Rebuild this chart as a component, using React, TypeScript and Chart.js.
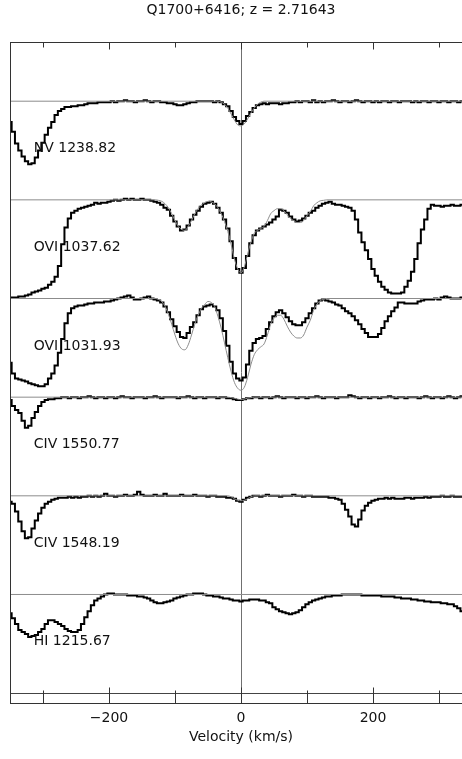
import { useEffect, useRef } from "react";
import { Chart, registerables } from "chart.js";

Chart.register(...registerables);

// Velocity bin centres (km/s) of the rebinned spectra
const VELOCITY = [
  -350, -345, -340, -335, -330, -325, -320, -315, -310, -305,
  -300, -295, -290, -285, -280, -275, -270, -265, -260, -255,
  -250, -245, -240, -235, -230, -225, -220, -215, -210, -205,
  -200, -195, -190, -185, -180, -175, -170, -165, -160, -155,
  -150, -145, -140, -135, -130, -125, -120, -115, -110, -105,
  -100, -95, -90, -85, -80, -75, -70, -65, -60, -55,
  -50, -45, -40, -35, -30, -25, -20, -15, -10, -5,
  0, 5, 10, 15, 20, 25, 30, 35, 40, 45,
  50, 55, 60, 65, 70, 75, 80, 85, 90, 95,
  100, 105, 110, 115, 120, 125, 130, 135, 140, 145,
  150, 155, 160, 165, 170, 175, 180, 185, 190, 195,
  200, 205, 210, 215, 220, 225, 230, 235, 240, 245,
  250, 255, 260, 265, 270, 275, 280, 285, 290, 295,
  300, 305, 310, 315, 320, 325, 330, 335, 340,
];

// Normalised flux per line, one value per velocity bin
const NV_1238 = [
  0.79, 0.69, 0.57, 0.50, 0.44, 0.39, 0.36, 0.37, 0.43, 0.50,
  0.58, 0.66, 0.73, 0.79, 0.86, 0.90, 0.92, 0.94, 0.94, 0.95,
  0.95, 0.96, 0.96, 0.97, 0.98, 0.98, 0.98, 0.99, 0.99, 0.99,
  0.99, 1.00, 0.99, 1.00, 1.00, 1.01, 1.00, 1.00, 0.99, 1.00,
  1.00, 1.01, 1.00, 0.99, 1.00, 1.00, 0.99, 0.99, 0.98, 0.98,
  0.97, 0.96, 0.96, 0.97, 0.98, 0.99, 0.99, 1.00, 1.00, 1.00,
  1.00, 1.00, 0.99, 1.00, 0.99, 0.97, 0.95, 0.90, 0.84, 0.80,
  0.77, 0.80, 0.85, 0.89, 0.93, 0.96, 0.97, 0.98, 0.97, 0.98,
  0.98, 0.98, 0.97, 0.98, 0.98, 0.99, 0.99, 1.00, 0.99, 1.00,
  1.00, 0.99, 1.01, 0.99, 1.00, 0.99, 1.00, 1.00, 1.01, 1.00,
  0.99, 1.00, 1.00, 0.99, 1.00, 1.01, 1.00, 0.99, 1.00, 1.00,
  0.99, 1.00, 0.99, 1.00, 1.00, 0.99, 1.00, 1.00, 0.99, 1.00,
  1.00, 1.00, 0.99, 1.00, 0.99, 1.00, 1.00, 0.99, 1.00, 1.00,
  0.99, 1.00, 1.00, 0.99, 1.00, 1.00, 0.99, 1.00, 1.00,
];

const OVI_1037 = [
  0.01, 0.01, 0.01, 0.02, 0.02, 0.03, 0.04, 0.06, 0.07, 0.08,
  0.10, 0.11, 0.14, 0.17, 0.22, 0.33, 0.55, 0.72, 0.81, 0.87,
  0.89, 0.91, 0.92, 0.93, 0.94, 0.95, 0.97, 0.96, 0.97, 0.97,
  0.98, 0.99, 1.00, 0.99, 1.00, 1.01, 1.00, 1.01, 1.00, 1.00,
  1.01, 1.00, 1.00, 0.99, 0.98, 0.97, 0.95, 0.92, 0.90, 0.84,
  0.78, 0.73, 0.69, 0.70, 0.74, 0.80, 0.85, 0.89, 0.93, 0.96,
  0.97, 0.98, 0.96, 0.92, 0.87, 0.80, 0.71, 0.58, 0.41, 0.30,
  0.26, 0.31, 0.43, 0.56, 0.64, 0.69, 0.71, 0.73, 0.75, 0.77,
  0.80, 0.83, 0.90, 0.89, 0.87, 0.83, 0.80, 0.78, 0.79, 0.81,
  0.84, 0.87, 0.89, 0.92, 0.94, 0.96, 0.97, 0.98, 0.96, 0.95,
  0.95, 0.94, 0.93, 0.92, 0.89, 0.80, 0.67, 0.57, 0.49, 0.40,
  0.30, 0.23, 0.17, 0.12, 0.09, 0.06, 0.05, 0.05, 0.05, 0.06,
  0.12, 0.18, 0.27, 0.40, 0.56, 0.70, 0.80, 0.91, 0.95, 0.94,
  0.94, 0.93, 0.94, 0.94, 0.95, 0.94, 0.94, 0.95, 0.95,
];

const OVI_1031 = [
  0.35, 0.24, 0.19, 0.18, 0.17, 0.16, 0.14, 0.13, 0.12, 0.11,
  0.11, 0.13, 0.19, 0.24, 0.32, 0.45, 0.59, 0.75, 0.85, 0.90,
  0.92, 0.93, 0.93, 0.94, 0.95, 0.95, 0.96, 0.96, 0.96, 0.97,
  0.97, 0.98, 0.99, 1.00, 1.01, 1.02, 1.03, 1.01, 0.99, 0.99,
  1.00, 1.01, 1.02, 1.00, 0.99, 0.98, 0.96, 0.92, 0.86, 0.79,
  0.72, 0.66, 0.61, 0.60, 0.65, 0.71, 0.76, 0.83, 0.89, 0.92,
  0.93, 0.94, 0.92, 0.88, 0.80, 0.67, 0.52, 0.36, 0.24, 0.19,
  0.17, 0.20, 0.33, 0.47, 0.55, 0.59, 0.60, 0.62, 0.69, 0.76,
  0.82, 0.86, 0.88, 0.85, 0.81, 0.77, 0.74, 0.73, 0.73, 0.76,
  0.80, 0.85, 0.90, 0.95, 0.98, 0.99, 0.98, 0.97, 0.96, 0.94,
  0.93, 0.90, 0.87, 0.85, 0.82, 0.78, 0.74, 0.69, 0.65, 0.61,
  0.61, 0.61, 0.64, 0.70, 0.77, 0.82, 0.87, 0.91, 0.96, 0.96,
  0.95, 0.95, 0.95, 0.95, 0.97, 0.98, 0.99, 0.99, 0.99, 1.00,
  0.99, 1.01, 1.02, 1.01, 1.00, 1.00, 1.00, 1.01, 1.00,
];

const CIV_1550 = [
  0.97, 0.91, 0.87, 0.84, 0.76, 0.69, 0.71, 0.79, 0.85, 0.91,
  0.95, 0.97, 0.98, 0.98, 0.99, 0.99, 1.00, 1.00, 0.99, 1.00,
  1.00, 0.99, 1.00, 1.00, 1.01, 1.00, 0.99, 1.00, 1.00, 0.99,
  1.00, 1.00, 0.99, 1.00, 1.01, 1.00, 1.00, 0.99, 1.00, 1.00,
  1.00, 0.99, 1.00, 1.00, 1.01, 1.00, 0.99, 1.00, 1.00, 1.00,
  1.00, 0.99, 1.00, 1.00, 1.01, 1.00, 0.99, 1.00, 1.00, 0.99,
  1.00, 1.00, 1.00, 0.99, 1.00, 1.00, 0.99, 0.99, 0.98, 0.97,
  0.97, 0.98, 0.99, 0.99, 1.00, 1.00, 0.99, 1.00, 1.00, 0.99,
  1.00, 1.01, 1.00, 0.99, 1.00, 1.00, 1.00, 0.99, 1.00, 1.00,
  0.99, 1.00, 1.00, 1.01, 1.00, 0.99, 1.00, 1.00, 1.00, 0.99,
  1.00, 1.00, 1.00, 1.02, 1.01, 1.00, 0.99, 1.00, 1.00, 0.99,
  1.00, 1.00, 0.99, 1.00, 1.00, 1.01, 1.00, 0.99, 1.00, 1.00,
  0.99, 1.00, 1.00, 1.00, 0.99, 1.00, 1.01, 1.00, 0.99, 1.00,
  1.00, 0.99, 1.00, 1.01, 1.00, 0.99, 1.00, 1.01, 1.00,
];

const CIV_1548 = [
  0.94, 0.92, 0.84, 0.74, 0.64, 0.57, 0.58, 0.67, 0.75, 0.82,
  0.88, 0.92, 0.94, 0.96, 0.97, 0.98, 0.98, 0.98, 0.99, 0.98,
  0.99, 0.98, 0.99, 0.99, 1.00, 0.99, 1.00, 0.99, 1.00, 1.02,
  1.00, 1.00, 0.99, 1.00, 1.00, 1.01, 1.00, 1.00, 1.01, 1.04,
  1.01, 1.00, 1.00, 1.00, 1.01, 1.00, 1.00, 1.02, 1.00, 1.00,
  1.00, 1.00, 1.01, 1.00, 1.00, 1.00, 1.01, 1.00, 1.00, 1.00,
  0.99, 1.00, 1.00, 0.99, 0.99, 0.99, 0.98, 0.98, 0.97, 0.95,
  0.94, 0.96, 0.98, 0.99, 1.00, 1.00, 0.99, 1.00, 1.01, 1.00,
  1.00, 1.00, 0.99, 1.00, 1.00, 1.00, 1.01, 1.00, 1.00, 0.99,
  1.00, 1.00, 0.99, 0.99, 0.99, 0.99, 0.99, 0.98, 0.98, 0.97,
  0.96, 0.92, 0.86, 0.79, 0.71, 0.69, 0.76, 0.85, 0.90, 0.93,
  0.95, 0.96, 0.97, 0.97, 0.98, 0.97, 0.98, 0.97, 0.97, 0.97,
  0.98, 0.98, 0.97, 0.98, 0.98, 0.98, 0.99, 0.98, 0.99, 0.99,
  0.99, 1.00, 0.99, 0.99, 1.00, 0.99, 0.99, 0.99, 0.99,
];

const HI_1215 = [
  0.81, 0.76, 0.70, 0.64, 0.62, 0.60, 0.57, 0.58, 0.59, 0.62,
  0.65, 0.70, 0.74, 0.74, 0.72, 0.70, 0.68, 0.65, 0.63, 0.62,
  0.62, 0.64, 0.70, 0.77, 0.83, 0.89, 0.94, 0.96, 0.98, 1.00,
  1.01, 1.01, 1.00, 1.00, 1.00, 1.00, 0.99, 0.99, 0.99, 0.98,
  0.98, 0.97, 0.96, 0.94, 0.92, 0.91, 0.91, 0.92, 0.93, 0.94,
  0.96, 0.97, 0.98, 0.99, 1.00, 1.00, 1.01, 1.01, 1.01, 1.00,
  0.99, 0.99, 0.98, 0.98, 0.97, 0.96, 0.96, 0.95, 0.94, 0.94,
  0.93, 0.94, 0.94, 0.95, 0.95, 0.95, 0.94, 0.94, 0.92, 0.91,
  0.87, 0.85, 0.83, 0.82, 0.81, 0.80, 0.81, 0.82, 0.84, 0.87,
  0.90, 0.92, 0.94, 0.95, 0.96, 0.97, 0.98, 0.98, 0.99, 0.99,
  0.99, 1.00, 1.00, 1.00, 1.00, 1.00, 1.00, 0.99, 0.99, 0.99,
  0.99, 0.99, 0.99, 0.98, 0.98, 0.98, 0.98, 0.97, 0.97, 0.96,
  0.96, 0.96, 0.95, 0.95, 0.94, 0.94, 0.93, 0.93, 0.92, 0.92,
  0.92, 0.91, 0.91, 0.90, 0.90, 0.88, 0.86, 0.83, 0.81,
];

// Model profiles (velocity, flux) for each line
const NV_FIT_V = [-350, -35, -30, -25, -20, -15, -10, -5, 0, 5, 10, 15, 20, 25, 30, 35, 350];
const NV_FIT = [1, 1, 0.99, 0.97, 0.93, 0.87, 0.81, 0.76, 0.75, 0.77, 0.82, 0.88, 0.93, 0.97, 0.99, 1, 1];

const OVI_FIT_V = [
  -350, -135, -130, -125, -120, -115, -110, -105, -100, -95, -90, -85, -80, -75, -70,
  -65, -60, -55, -50, -45, -40, -35, -30, -25, -20, -15, -10, -5, 0, 5, 10, 15, 20,
  25, 30, 35, 40, 45, 50, 55, 60, 65, 70, 75, 80, 85, 90, 95, 100, 105, 110, 115, 120,
  125, 130, 350,
];
const OVI_1037_FIT = [
  1, 1, 1.0, 0.995, 0.985, 0.96, 0.92, 0.86, 0.79, 0.73, 0.7, 0.69, 0.73, 0.79, 0.86,
  0.91, 0.95, 0.97, 0.985, 0.98, 0.96, 0.92, 0.86, 0.78, 0.68, 0.55, 0.4, 0.3, 0.26, 0.32, 0.45, 0.57, 0.66,
  0.69, 0.71, 0.73, 0.79, 0.86, 0.89, 0.91, 0.91, 0.89, 0.85, 0.81, 0.79, 0.77, 0.77, 0.79, 0.84, 0.88, 0.94, 0.97, 0.99,
  0.995, 1.0, 1,
];
const OVI_1031_FIT = [
  1, 1, 1.0, 0.99, 0.97, 0.92, 0.84, 0.74, 0.63, 0.54, 0.49, 0.48, 0.53, 0.63, 0.74,
  0.83, 0.9, 0.94, 0.97, 0.96, 0.92, 0.82, 0.7, 0.55, 0.4, 0.26, 0.15, 0.09, 0.07, 0.1, 0.2, 0.33, 0.43,
  0.48, 0.51, 0.54, 0.63, 0.74, 0.8, 0.83, 0.83, 0.79, 0.72, 0.66, 0.62, 0.6, 0.6, 0.63, 0.71, 0.78, 0.88, 0.94, 0.98,
  0.99, 1.0, 1,
];

const CIV_FIT_V = [-350, -20, -15, -10, -5, 0, 5, 10, 15, 20, 350];
const CIV_1550_FIT = [1, 1, 0.995, 0.99, 0.98, 0.975, 0.98, 0.99, 0.995, 1, 1];
const CIV_1548_FIT = [1, 1, 0.99, 0.97, 0.955, 0.95, 0.955, 0.97, 0.99, 1, 1];

const HI_FIT_V = [-350, 350];
const HI_FIT = [1, 1];

const LINE_LABELS = ["NV 1238.82", "OVI 1037.62", "OVI 1031.93", "CIV 1550.77", "CIV 1548.19", "HI 1215.67"];
const PANEL_OFFSETS = [5, 4, 3, 2, 1, 0];

const TITLE = "Q1700+6416; z = 2.71643";
const X_TITLE = "Velocity (km/s)";
const MAJOR_TICKS = [-200, 0, 200];
const MINOR_TICKS = [-300, -100, 100, 300];

const PANELS = [
  { flux: NV_1238, fitV: NV_FIT_V, fit: NV_FIT },
  { flux: OVI_1037, fitV: OVI_FIT_V, fit: OVI_1037_FIT },
  { flux: OVI_1031, fitV: OVI_FIT_V, fit: OVI_1031_FIT },
  { flux: CIV_1550, fitV: CIV_FIT_V, fit: CIV_1550_FIT },
  { flux: CIV_1548, fitV: CIV_FIT_V, fit: CIV_1548_FIT },
  { flux: HI_1215, fitV: HI_FIT_V, fit: HI_FIT },
];

const FONT = "14px 'DejaVu Sans', sans-serif";

const tickText = (v: number) => (v < 0 ? "\u2212" + Math.abs(v) : String(v));

const stackFrame = {
  id: "stackFrame",
  beforeDatasetsDraw(chart: any) {
    const { ctx, chartArea: a, scales } = chart;
    const xs = scales.x;
    const ys = scales.y;
    ctx.save();
    ctx.lineWidth = 1;
    // zero velocity marker
    const x0 = Math.round(xs.getPixelForValue(0)) + 0.5;
    ctx.strokeStyle = "#707070";
    ctx.beginPath();
    ctx.moveTo(x0, a.top);
    ctx.lineTo(x0, a.bottom);
    ctx.stroke();
    // zero flux of the lowest spectrum
    const y0 = Math.round(ys.getPixelForValue(0)) + 0.5;
    ctx.strokeStyle = "#444";
    ctx.beginPath();
    ctx.moveTo(a.left, y0);
    ctx.lineTo(a.right, y0);
    ctx.stroke();
    ctx.restore();
  },
  afterDraw(chart: any) {
    const { ctx, chartArea: a, scales } = chart;
    const xs = scales.x;
    const ys = scales.y;
    ctx.save();
    ctx.lineWidth = 1;
    ctx.strokeStyle = "#333";
    const L = Math.round(a.left) + 0.5;
    const T = Math.round(a.top) + 0.5;
    const B = Math.round(a.bottom) + 0.5;
    const R = Math.round(a.right) + 0.5;
    ctx.strokeRect(L, T, R - L, B - T);

    const tick = (v: number, topLen: number, botLen: number) => {
      const px = Math.round(xs.getPixelForValue(v)) + 0.5;
      ctx.beginPath();
      ctx.moveTo(px, T);
      ctx.lineTo(px, T + topLen);
      ctx.moveTo(px, B);
      ctx.lineTo(px, B - botLen);
      ctx.stroke();
    };
    MAJOR_TICKS.forEach((v) => tick(v, 7, 16));
    MINOR_TICKS.forEach((v) => tick(v, 5, 13));

    ctx.fillStyle = "#111";
    ctx.font = FONT;
    ctx.textAlign = "center";
    ctx.textBaseline = "middle";
    MAJOR_TICKS.forEach((v) => {
      ctx.fillText(tickText(v), xs.getPixelForValue(v), a.bottom + 15);
    });
    const midX = xs.getPixelForValue(0);
    ctx.fillText(X_TITLE, midX, a.bottom + 34);
    ctx.fillText(TITLE, midX, 10);

    ctx.textAlign = "left";
    ctx.textBaseline = "alphabetic";
    LINE_LABELS.forEach((label, i) => {
      const yc = ys.getPixelForValue(PANEL_OFFSETS[i] + 1);
      ctx.fillText(label, xs.getPixelForValue(-314), yc + 51);
    });
    ctx.restore();
  },
};

export default function App() {
  const canvasRef = useRef<HTMLCanvasElement | null>(null);

  useEffect(() => {
    const canvas = canvasRef.current;
    if (!canvas) return;
    const datasets: any[] = [];
    PANELS.forEach((p, i) => {
      const off = PANEL_OFFSETS[i];
      datasets.push({
        data: p.fitV.map((v, k) => ({ x: v, y: p.fit[k] + off })),
        borderColor: "#8c8c8c",
        borderWidth: 1,
        pointRadius: 0,
        cubicInterpolationMode: "monotone",
        fill: false,
      });
    });
    PANELS.forEach((p, i) => {
      const off = PANEL_OFFSETS[i];
      datasets.push({
        data: VELOCITY.map((v, k) => ({ x: v, y: p.flux[k] + off })),
        borderColor: "#000",
        borderWidth: 2,
        pointRadius: 0,
        stepped: "middle",
        fill: false,
      });
    });

    const chart = new Chart(canvas, {
      type: "line",
      data: { datasets },
      options: {
        animation: false,
        responsive: false,
        devicePixelRatio: 1,
        layout: { padding: { left: 10, right: 8, top: 42, bottom: 56 } },
        scales: {
          x: { type: "linear", min: -350, max: 350, display: false },
          y: { type: "linear", min: -0.1, max: 6.6, display: false },
        },
        plugins: { legend: { display: false }, tooltip: { enabled: false }, title: { display: false } },
        events: [],
      },
      plugins: [stackFrame],
    });
    return () => chart.destroy();
  }, []);

  return (
    <div
      style={{
        position: "fixed",
        left: 0,
        top: 0,
        width: 462,
        height: 759,
        overflow: "hidden",
        background: "#fff",
      }}
    >
      <canvas ref={canvasRef} width={480} height={759} style={{ width: 480, height: 759, display: "block" }} />
    </div>
  );
}
